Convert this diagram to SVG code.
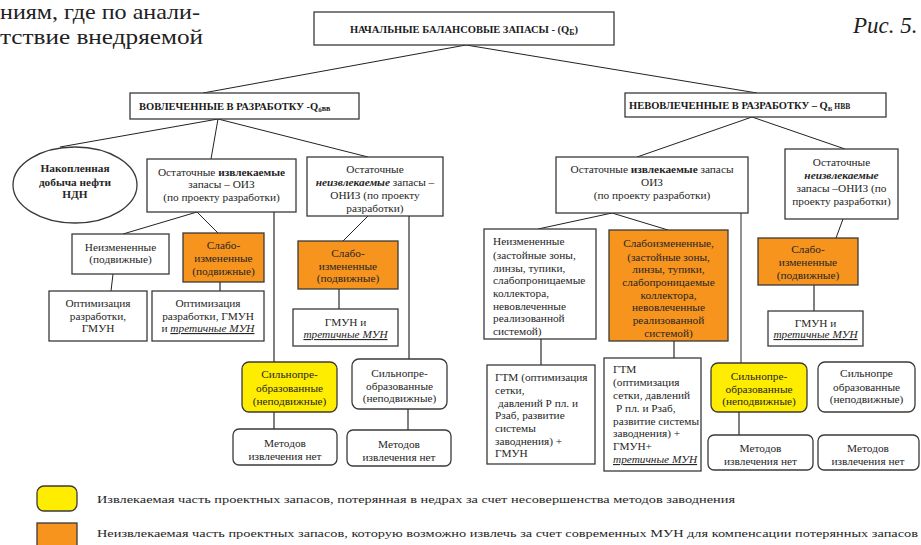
<svg xmlns="http://www.w3.org/2000/svg" width="921" height="545" viewBox="0 0 921 545">
<style>
.box{fill:#fff;stroke:#3a3a3a;stroke-width:1.3}
.org{fill:#F7941E;stroke:#3a3a3a;stroke-width:1.3}
.yel{fill:#FFED00;stroke:#3a3a3a;stroke-width:1.3}
.t{font-family:"Liberation Serif","Times New Roman","DejaVu Serif",serif;font-size:11.3px;fill:#262626;text-anchor:middle}
.l{text-anchor:start}
.b{font-weight:bold}
.h{font-weight:bold;font-size:10.5px;fill:#1a1a1a}
.bi{font-weight:bold;font-style:italic}
.iu{font-style:italic;text-decoration:underline}
.ln{stroke:#222;stroke-width:1;fill:none}
.vl{stroke:#555;stroke-width:1.5;fill:none}
.big{font-family:"Liberation Serif","Times New Roman","DejaVu Serif",serif;fill:#222}
</style>
<text class="big" x="0" y="19" font-size="21" textLength="200" lengthAdjust="spacingAndGlyphs">ниям, где по анали-</text>
<text class="big" x="0" y="44" font-size="21" textLength="203" lengthAdjust="spacingAndGlyphs">тствие внедряемой</text>
<text class="big" x="853" y="33" font-size="23" font-style="italic">Рис. 5.</text>
<g id="connectors">
<path class="ln" d="M466,45 L203,93 M466,45 L757,93"/>
<path class="ln" d="M218,119 L60,147 M218,119 L211,159 M218,119 L368,157"/>
<path class="ln" d="M197,212 L123,234 M197,212 L218,233"/>
<path class="vl" d="M274,212 L274,362"/>
<path class="ln" d="M113,274 L111,291"/>
<path class="vl" d="M220,282 L220,291"/>
<path class="ln" d="M368,216 L343,241"/>
<path class="vl" d="M339,289 L339,309"/>
<path class="vl" d="M409,216 L409,359"/>
<path class="vl" d="M274,412 L274,429 M408,409 L408,430"/>
<path class="ln" d="M752,117 L637,157 M752,117 L845,149"/>
<path class="ln" d="M612,213 L538,229 M612,213 L668,230"/>
<path class="ln" d="M741,213 L741,363"/>
<path class="ln" d="M843,219 L836,238"/>
<path class="vl" d="M814,285 L814,311 M541,339 L541,365 M674,341 L674,358 M739,412 L739,435"/>
</g>
<g id="title">
<rect class="box" x="314" y="12" width="300" height="33"/>
<text class="t h" x="464" y="33" font-size="12.3">НАЧАЛЬНЫЕ БАЛАНСОВЫЕ ЗАПАСЫ - (Q<tspan font-size="8" dy="2">Б</tspan><tspan dy="-2">)</tspan></text>
</g>
<g id="hdrL">
<rect class="box" x="130" y="93" width="229" height="26"/>
<text class="t h l" x="139" y="110">ВОВЛЕЧЕННЫЕ В РАЗРАБОТКУ -Q<tspan font-size="7" dy="2">б</tspan><tspan font-size="8" dy="-1">вв</tspan></text>
</g>
<g id="hdrR">
<rect class="box" x="625" y="93" width="261" height="24"/>
<text class="t h l" x="629" y="109">НЕВОВЛЕЧЕННЫЕ В РАЗРАБОТКУ – Q<tspan font-size="7" dy="1.5">Б</tspan><tspan font-size="7.5" dy="-1.5"> НВВ</tspan></text>
</g>
<g id="ndn">
<ellipse cx="75" cy="185" rx="62" ry="38" fill="#fff" stroke="#3a3a3a" stroke-width="1.3"/>
<text class="t b" x="75" y="172">Накопленная</text>
<text class="t b" x="75" y="186">добыча нефти</text>
<text class="t b" x="75" y="198">НДН</text>
</g>
<g id="oizL">
<rect class="box" x="147" y="159" width="149" height="53"/>
<text class="t" x="221.5" y="176">Остаточные <tspan class="b">извлекаемые</tspan></text>
<text class="t" x="221.5" y="188">запасы – ОИЗ</text>
<text class="t" x="221.5" y="201">(по проекту разработки)</text>
</g>
<g id="nizL">
<rect class="box" x="72" y="234" width="97" height="40"/>
<text class="t" x="120.5" y="251">Неизмененные</text>
<text class="t" x="120.5" y="263">(подвижные)</text>
</g>
<g id="slabL1">
<rect class="org" x="183" y="233" width="81" height="49"/>
<text class="t" x="223.5" y="249">Слабо-</text>
<text class="t" x="223.5" y="262">измененные</text>
<text class="t" x="223.5" y="275">(подвижные)</text>
</g>
<g id="optL1">
<rect class="box" x="49" y="291" width="98" height="50"/>
<text class="t" x="98" y="307">Оптимизация</text>
<text class="t" x="98" y="320">разработки,</text>
<text class="t" x="98" y="332">ГМУН</text>
</g>
<g id="optL2">
<rect class="box" x="152" y="291" width="112" height="50"/>
<text class="t" x="208" y="307">Оптимизация</text>
<text class="t" x="208" y="320">разработки,  ГМУН</text>
<text class="t" x="208" y="332">и <tspan class="iu">третичные МУН</tspan></text>
</g>
<g id="onizL">
<rect class="box" x="307" y="157" width="136" height="59"/>
<text class="t" x="375" y="173">Остаточные</text>
<text class="t" x="375" y="186"><tspan class="bi">неизвлекаемые</tspan> запасы –</text>
<text class="t" x="375" y="199">ОНИЗ (по проекту</text>
<text class="t" x="375" y="212">разработки)</text>
</g>
<g id="slabL2">
<rect class="org" x="298" y="241" width="100" height="48"/>
<text class="t" x="348" y="257">Слабо-</text>
<text class="t" x="348" y="270">измененные</text>
<text class="t" x="348" y="282">(подвижные)</text>
</g>
<g id="gmunL">
<rect class="box" x="293" y="309" width="105" height="37"/>
<text class="t" x="345.5" y="326">ГМУН и</text>
<text class="t iu" x="345.5" y="338">третичные МУН</text>
</g>
<g id="yelL">
<rect class="yel" x="242" y="362" width="95" height="50" rx="7"/>
<text class="t" x="289.5" y="378">Сильнопре-</text>
<text class="t" x="289.5" y="392">образованные</text>
<text class="t" x="289.5" y="405">(неподвижные)</text>
</g>
<g id="whtL">
<rect class="box" x="352" y="359" width="95" height="50" rx="7"/>
<text class="t" x="399.5" y="377">Сильнопре-</text>
<text class="t" x="399.5" y="390">образованные</text>
<text class="t" x="399.5" y="402">(неподвижные)</text>
</g>
<g id="metL1">
<rect class="box" x="233" y="429" width="104" height="36" rx="6"/>
<text class="t" x="285" y="447">Методов</text>
<text class="t" x="285" y="460">извлечения нет</text>
</g>
<g id="metL2">
<rect class="box" x="347" y="430" width="104" height="36" rx="6"/>
<text class="t" x="399" y="448">Методов</text>
<text class="t" x="399" y="461">извлечения нет</text>
</g>
<g id="oizR">
<rect class="box" x="556" y="157" width="192" height="56"/>
<text class="t" x="652" y="173">Остаточные <tspan class="b">извлекаемые</tspan> запасы</text>
<text class="t" x="652" y="186">ОИЗ</text>
<text class="t" x="652" y="199">(по проекту разработки)</text>
</g>
<g id="nizR">
<rect class="box" x="484" y="229" width="112" height="110"/>
<text class="t l" x="493" y="245">Неизмененные</text>
<text class="t l" x="493" y="259">(застойные зоны,</text>
<text class="t l" x="493" y="272">линзы, тупики,</text>
<text class="t l" x="493" y="284">слабопроницаемые</text>
<text class="t l" x="493" y="297">коллектора,</text>
<text class="t l" x="493" y="310">невовлеченные</text>
<text class="t l" x="493" y="322">реализованной</text>
<text class="t l" x="493" y="335">системой)</text>
</g>
<g id="slabR">
<rect class="org" x="609" y="230" width="119" height="111"/>
<text class="t" x="668.5" y="247">Слабоизмененные,</text>
<text class="t" x="668.5" y="261">(застойные зоны,</text>
<text class="t" x="668.5" y="273">линзы, тупики,</text>
<text class="t" x="668.5" y="286">слабопроницаемые</text>
<text class="t" x="668.5" y="299">коллектора,</text>
<text class="t" x="668.5" y="311">невовлеченные</text>
<text class="t" x="668.5" y="324">реализованной</text>
<text class="t" x="668.5" y="337">системой)</text>
</g>
<g id="gtm1">
<rect class="box" x="487" y="365" width="108" height="99"/>
<text class="t l" x="495" y="381">ГТМ (оптимизация</text>
<text class="t l" x="495" y="394">сетки,</text>
<text class="t l" x="498" y="407">давлений Р пл. и</text>
<text class="t l" x="495" y="419">Рзаб, развитие</text>
<text class="t l" x="495" y="432">системы</text>
<text class="t l" x="495" y="445">заводнения) +</text>
<text class="t l" x="495" y="457">ГМУН</text>
</g>
<g id="gtm2">
<rect class="box" x="604" y="358" width="97" height="113"/>
<text class="t l" x="613" y="373">ГТМ</text>
<text class="t l" x="613" y="386">(оптимизация</text>
<text class="t l" x="613" y="399">сетки, давлений</text>
<text class="t l" x="616" y="412">Р пл. и Рзаб,</text>
<text class="t l" x="613" y="425">развитие системы</text>
<text class="t l" x="613" y="437">заводнения) +</text>
<text class="t l" x="613" y="450">ГМУН+</text>
<text class="t l iu" x="613" y="463">третичные МУН</text>
</g>
<g id="onizR">
<rect class="box" x="785" y="149" width="113" height="70"/>
<text class="t" x="841.5" y="166">Остаточные</text>
<text class="t bi" x="841.5" y="179">неизвлекаемые</text>
<text class="t" x="841.5" y="192">запасы –ОНИЗ (по</text>
<text class="t" x="841.5" y="205">проекту разработки)</text>
</g>
<g id="slabR2">
<rect class="org" x="758" y="238" width="100" height="47"/>
<text class="t" x="808" y="253">Слабо-</text>
<text class="t" x="808" y="266">измененные</text>
<text class="t" x="808" y="279">(подвижные)</text>
</g>
<g id="gmunR">
<rect class="box" x="768" y="311" width="95" height="35"/>
<text class="t" x="815.5" y="327">ГМУН и</text>
<text class="t iu" x="815.5" y="338">третичные МУН</text>
</g>
<g id="yelR">
<rect class="yel" x="711" y="363" width="96" height="49" rx="7"/>
<text class="t" x="759" y="380">Сильнопре-</text>
<text class="t" x="759" y="393">образованные</text>
<text class="t" x="759" y="405">(неподвижные)</text>
</g>
<g id="whtR">
<rect class="box" x="818" y="362" width="97" height="50" rx="7"/>
<text class="t" x="866.5" y="377">Сильнопре</text>
<text class="t" x="866.5" y="391">образованные</text>
<text class="t" x="866.5" y="403">(неподвижные)</text>
</g>
<g id="metR1">
<rect class="box" x="708" y="435" width="105" height="35" rx="6"/>
<text class="t" x="760.5" y="452">Методов</text>
<text class="t" x="760.5" y="465">извлечения нет</text>
</g>
<g id="metR2">
<rect class="box" x="818" y="435" width="101" height="35" rx="6"/>
<text class="t" x="868" y="452">Методов</text>
<text class="t" x="868" y="465">извлечения нет</text>
</g>
<g id="legend">
<rect class="yel" x="37" y="486" width="40" height="25" rx="7" stroke="#555"/>
<rect class="org" x="37" y="523" width="40" height="25" stroke="#555"/>
<text class="t l" x="97" y="503" font-size="12" textLength="638" lengthAdjust="spacingAndGlyphs">Извлекаемая часть проектных запасов, потерянная в недрах за счет несовершенства методов заводнения</text>
<text class="t l" x="97" y="537" font-size="12" textLength="821" lengthAdjust="spacingAndGlyphs">Неизвлекаемая часть проектных запасов, которую возможно извлечь за счет современных МУН для компенсации потерянных запасов</text>
</g>
</svg>
